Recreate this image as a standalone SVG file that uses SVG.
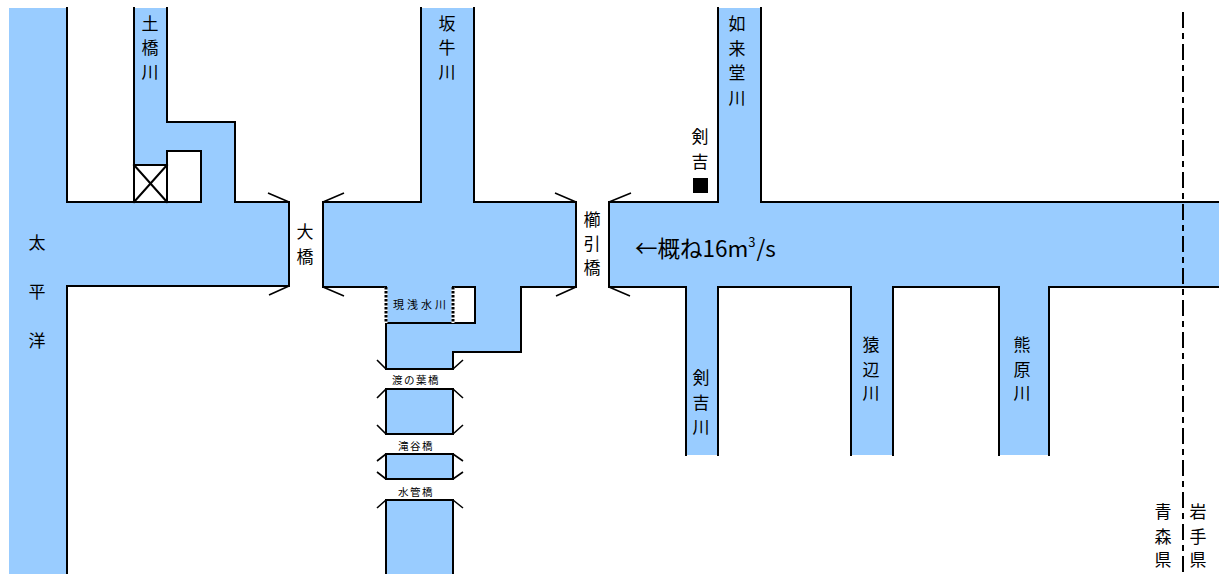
<svg xmlns="http://www.w3.org/2000/svg" width="1219" height="574" viewBox="0 0 1219 574">
<style>
.water{fill:#99CCFF;stroke:none}
.land{fill:#FFFFFF;stroke:none}
.edge{fill:none;stroke:#000;stroke-width:2;stroke-linecap:square}
.mark{fill:none;stroke:#000;stroke-width:1.6}
.lbl{font-family:"Noto Sans CJK JP","Noto Sans",sans-serif;font-size:17px;fill:#000;text-anchor:middle}
.sm{font-family:"Noto Sans CJK JP","Noto Sans",sans-serif;font-size:10.5px;fill:#000;text-anchor:middle;letter-spacing:1.5px}
</style>
<rect width="1219" height="574" fill="#FFFFFF"/>

<g id="left-system">
<path class="water" d="M9,8 H67 V202 H134 V8 H167 V122 H235 V202 H289 V286 H67 V574 H9 Z"/>
<rect class="land" x="167" y="151" width="34" height="51"/>
<rect class="land" x="134" y="165" width="33" height="37"/>
<path class="edge" d="M67,8 V202 H201 M134,8 V202 M167,8 V122 H235 V202 H289 V286 H67 V574 M167,151 H201 V202 M167,151 V202 M134,165 H167 M134,165 L167,202 M167,165 L134,202"/>
<text class="lbl"><tspan x="37" y="249">太</tspan><tspan x="37" y="298">平</tspan><tspan x="37" y="347">洋</tspan></text>
<text class="lbl"><tspan x="150" y="30">土</tspan><tspan x="150" y="54">橋</tspan><tspan x="150" y="78">川</tspan></text>
</g>

<g id="middle-system">
<path class="water" d="M323,202 H421 V8 H474 V202 H576 V287 H521 V352 H453 V369 H386 V287 H323 Z"/>
<rect class="land" x="453" y="287" width="22" height="36"/>
<path class="edge" d="M323,202 H421 V8 M474,8 V202 H576 V287 H521 V352 H453 V369 H386 V323 M323,202 V287 H386 M453,287 H475 V323 H386"/>
<path d="M386,287 V323 M453,287 V323" fill="none" stroke="#FFFFFF" stroke-width="3"/>
<path d="M386,287 V323 M453,287 V323" fill="none" stroke="#000" stroke-width="3" stroke-dasharray="2.5 1.5"/>
<text class="sm" style="font-size:11px;letter-spacing:3px" x="421" y="309">現浅水川</text>
<text class="lbl"><tspan x="447" y="30">坂</tspan><tspan x="447" y="54">牛</tspan><tspan x="447" y="78">川</tspan></text>
</g>

<g id="downstream-blocks">
<rect class="water" x="386" y="389" width="67" height="45"/>
<rect class="water" x="386" y="454" width="67" height="25"/>
<rect class="water" x="386" y="500" width="67" height="74"/>
<path class="edge" d="M386,389 H453 V434 H386 Z M386,454 H453 V479 H386 Z M386,574 V500 H453 V574"/>
<text class="sm" x="416" y="384">渡の葉橋</text>
<text class="sm" x="416" y="450">滝谷橋</text>
<text class="sm" x="416" y="496">水管橋</text>
</g>

<g id="right-system">
<path class="water" d="M609,202 H718 V8 H761 V202 H1219 V287 H1049 V455 H999 V287 H893 V455 H851 V287 H718 V455 H686 V287 H609 Z"/>
<path class="edge" d="M609,202 H718 V8 M761,8 V202 H1219 M609,202 V287 H686 V455 M718,455 V287 H851 V455 M893,455 V287 H999 V455 M1049,455 V287 H1219"/>
<text class="lbl"><tspan x="737" y="30">如</tspan><tspan x="737" y="55">来</tspan><tspan x="737" y="79">堂</tspan><tspan x="737" y="104">川</tspan></text>
<text class="lbl"><tspan x="701" y="384">剣</tspan><tspan x="701" y="409">吉</tspan><tspan x="701" y="433">川</tspan></text>
<text class="lbl"><tspan x="871" y="351">猿</tspan><tspan x="871" y="376">辺</tspan><tspan x="871" y="399">川</tspan></text>
<text class="lbl"><tspan x="1022" y="351">熊</tspan><tspan x="1022" y="376">原</tspan><tspan x="1022" y="399">川</tspan></text>
<text x="635" y="257" style="font-family:'Noto Sans CJK JP','Noto Sans',sans-serif;font-size:22.5px;fill:#000">←概ね16m<tspan dy="-10" font-size="13">3</tspan><tspan dy="10" dx="1">/s</tspan></text>
</g>

<g id="kenyoshi">
<text class="lbl"><tspan x="700" y="143">剣</tspan><tspan x="700" y="168">吉</tspan></text>
<rect x="693" y="178" width="15" height="15" fill="#000"/>
</g>

<g id="bridges">
<text class="lbl"><tspan x="305" y="238">大</tspan><tspan x="305" y="263">橋</tspan></text>
<text class="lbl"><tspan x="592" y="226">櫛</tspan><tspan x="592" y="250">引</tspan><tspan x="592" y="274">橋</tspan></text>
</g>

<g id="connectors">
<path class="mark" d="M289,202 L268,193 M289,286 L269,295 M323,202 L344,193 M323,287 L344,296 M576,202 L555,193 M576,287 L556,296 M609,202 L631,193 M609,287 L630,296 M386,369 L377,360 M453,369 L463,360 M386,389 L377,398 M453,389 L463,398 M386,434 L377,425 M453,434 L463,425 M386,454 L377,461 M453,454 L463,461 M386,479 L377,472 M453,479 L463,472 M386,500 L377,508 M453,500 L463,508"/>
</g>

<g id="prefecture-border">
<path d="M1183,12 V574" fill="none" stroke="#000" stroke-width="2" stroke-dasharray="16 5 6 5"/>
<text class="lbl"><tspan x="1163" y="518">青</tspan><tspan x="1163" y="543">森</tspan><tspan x="1163" y="566">県</tspan></text>
<text class="lbl"><tspan x="1198" y="518">岩</tspan><tspan x="1198" y="543">手</tspan><tspan x="1198" y="566">県</tspan></text>
</g>
</svg>
